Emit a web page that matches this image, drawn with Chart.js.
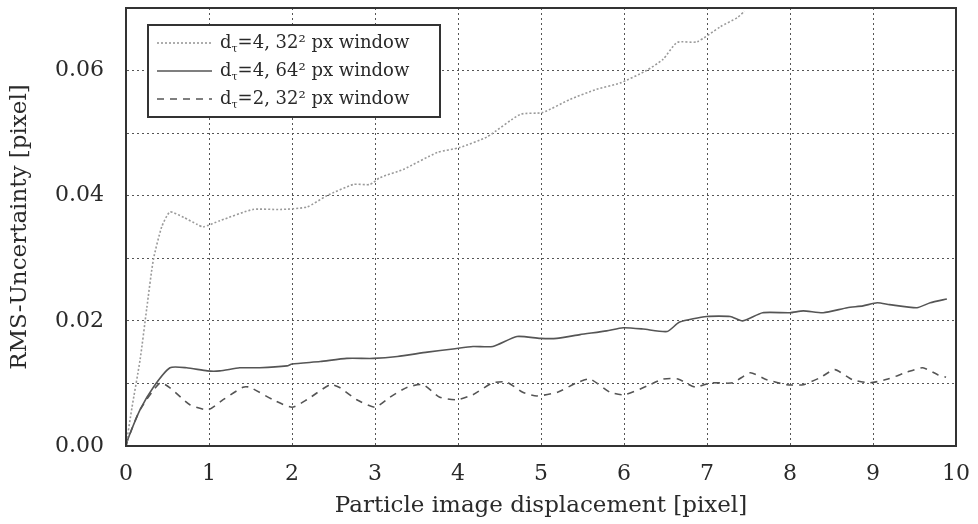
<!DOCTYPE html>
<html>
<head>
<meta charset="utf-8">
<script src="https://cdn.jsdelivr.net/npm/chart.js@4"></script>
<style>
html,body{margin:0;padding:0;background:#fff;}
#wrap{width:978px;height:524px;position:relative;}
</style>
</head>
<body>
<div id="wrap"><canvas id="c" width="978" height="524"></canvas></div>
<script>
// ---- data ----
const xTickLabels = ['0','1','2','3','4','5','6','7','8','9','10'];
const yTickLabels = ['0.00','0.02','0.04','0.06'];
const xTitle = 'Particle image displacement [pixel]';
const yTitle = 'RMS-Uncertainty [pixel]';
const seriesNames = ['d\u03C4=4, 32\u00B2 px window', 'd\u03C4=4, 64\u00B2 px window', 'd\u03C4=2, 32\u00B2 px window'];

const s1x = [0, 0.07, 0.17, 0.25, 0.33, 0.43, 0.53, 0.7, 0.86, 0.93, 1.13, 1.53, 1.86, 2.18, 2.42, 2.74, 2.94, 3.06, 3.34, 3.75, 4.02, 4.35, 4.75, 5.02, 5.35, 5.67, 5.95, 6.27, 6.47, 6.64, 6.88, 7.16, 7.37, 7.45];
const s1y = [0, 0.006, 0.0138, 0.022, 0.0298, 0.035, 0.0374, 0.0365, 0.0354, 0.035, 0.036, 0.0378, 0.0378, 0.0382, 0.040, 0.0418, 0.0418, 0.0429, 0.0442, 0.0469, 0.0477, 0.0494, 0.053, 0.0533, 0.0554, 0.057, 0.058, 0.060, 0.0618, 0.0645, 0.0646, 0.067, 0.0685, 0.0695];

const s2x = [0, 0.02, 0.17, 0.33, 0.53, 0.73, 0.98, 1.13, 1.37, 1.61, 1.94, 2.0, 2.34, 2.66, 2.98, 3.27, 3.63, 3.94, 4.18, 4.42, 4.71, 4.99, 5.19, 5.47, 5.79, 5.99, 6.23, 6.52, 6.67, 7.0, 7.28, 7.43, 7.67, 8.0, 8.16, 8.4, 8.69, 8.88, 9.05, 9.2, 9.53, 9.69, 9.89];
const s2y = [0, 0.001, 0.0058, 0.0094, 0.0125, 0.0125, 0.012, 0.012, 0.0125, 0.0125, 0.0128, 0.0131, 0.0135, 0.014, 0.014, 0.0143, 0.015, 0.0155, 0.0159, 0.0159, 0.0175, 0.0172, 0.0172, 0.0178, 0.0184, 0.0189, 0.0187, 0.0183, 0.0198, 0.0207, 0.0207, 0.020, 0.0213, 0.0213, 0.0216, 0.0213, 0.0221, 0.0224, 0.0229, 0.0226, 0.0221, 0.0229, 0.0235];

const s3x = [0, 0.02, 0.17, 0.41, 0.53, 0.77, 0.99, 1.17, 1.41, 1.49, 1.77, 2.0, 2.18, 2.46, 2.58, 2.78, 3.0, 3.18, 3.39, 3.58, 3.78, 3.99, 4.18, 4.42, 4.59, 4.78, 4.95, 5.2, 5.43, 5.59, 5.83, 6.01, 6.28, 6.47, 6.65, 6.86, 7.04, 7.31, 7.52, 7.72, 7.96, 8.16, 8.36, 8.54, 8.75, 8.96, 9.18, 9.41, 9.6, 9.78, 9.88];
const s3y = [0, 0.001, 0.0058, 0.0101, 0.0093, 0.0066, 0.0058, 0.0074, 0.0094, 0.0094, 0.0074, 0.0062, 0.0074, 0.0098, 0.0093, 0.0074, 0.0062, 0.0078, 0.0094, 0.0098, 0.0078, 0.0074, 0.0082, 0.0101, 0.0102, 0.0086, 0.0080, 0.0086, 0.0101, 0.0107, 0.0086, 0.0082, 0.0096, 0.0107, 0.0107, 0.0094, 0.0101, 0.0101, 0.0117, 0.0106, 0.0098, 0.0098, 0.0109, 0.0122, 0.0106, 0.0101, 0.0107, 0.0118, 0.0125, 0.0114, 0.0110];

const toPts = (xs, ys) => xs.map((x, i) => ({x: x, y: ys[i]}));

const FONT = "'DejaVu Serif', serif";
const TEXT = '#2a2a2a';

const frame = {
  id: 'frame',
  afterDraw(chart) {
    const {ctx, chartArea: a} = chart;
    ctx.save();
    ctx.strokeStyle = '#333';
    ctx.lineWidth = 2;
    ctx.strokeRect(a.left, a.top, a.right - a.left, a.bottom - a.top);
    // legend box
    const lx = a.left + 22, ly = a.top + 17, lw = 292, lh = 92;
    ctx.fillStyle = '#fff';
    ctx.fillRect(lx, ly, lw, lh);
    ctx.strokeStyle = '#333';
    ctx.lineWidth = 2;
    ctx.strokeRect(lx, ly, lw, lh);
    const ds = chart.data.datasets;
    ds.forEach((d, i) => {
      const y = ly + 18 + i * 28;
      ctx.strokeStyle = d.borderColor;
      ctx.lineWidth = d.borderWidth;
      ctx.setLineDash(d.borderDash || []);
      ctx.beginPath();
      ctx.moveTo(lx + 9, y);
      ctx.lineTo(lx + 64, y);
      ctx.stroke();
      ctx.setLineDash([]);
      const name = d.label;
      ctx.fillStyle = TEXT;
      ctx.textBaseline = 'middle';
      ctx.textAlign = 'left';
      let x = lx + 72;
      ctx.font = "18px " + FONT;
      ctx.fillText(name[0], x, y);
      x += ctx.measureText(name[0]).width;
      ctx.font = "11px " + FONT;
      ctx.fillText(name[1], x, y + 6);
      x += ctx.measureText(name[1]).width;
      ctx.font = "18px " + FONT;
      ctx.fillText(name.slice(2), x, y);
    });
    ctx.restore();
  }
};

new Chart(document.getElementById('c'), {
  type: 'line',
  data: {
    datasets: [
      {label: seriesNames[0], data: toPts(s1x, s1y), borderColor: '#9a9a9a', borderWidth: 1.6, borderDash: [2, 2], pointRadius: 0, tension: 0.2, fill: false},
      {label: seriesNames[1], data: toPts(s2x, s2y), borderColor: '#555', borderWidth: 1.6, pointRadius: 0, tension: 0.2, fill: false},
      {label: seriesNames[2], data: toPts(s3x, s3y), borderColor: '#555', borderWidth: 1.6, borderDash: [7, 6], pointRadius: 0, tension: 0.2, fill: false}
    ]
  },
  options: {
    responsive: false,
    animation: false,
    devicePixelRatio: 1,
    layout: {padding: {top: 8, right: 22, bottom: 0, left: 0}},
    plugins: {legend: {display: false}, tooltip: {enabled: false}},
    scales: {
      x: {
        type: 'linear', min: 0, max: 10,
        afterFit(s) { s.height = 78; s.paddingLeft = 0; s.paddingRight = 0; },
        ticks: {stepSize: 1, color: TEXT, font: {family: FONT, size: 22}, padding: 15,
          callback: (v) => xTickLabels[Math.round(v)] ?? ''},
        grid: {color: '#555', lineWidth: 1, drawTicks: false},
        border: {display: true, color: '#333', width: 2, dash: [2, 3]},
        title: {display: true, text: xTitle, color: TEXT, font: {family: FONT, size: 23}, padding: {top: 0, bottom: 4}}
      },
      y: {
        type: 'linear', min: 0, max: 0.07,
        afterFit(s) { s.width = 126; s.paddingTop = 0; s.paddingBottom = 0; },
        ticks: {stepSize: 0.01, color: TEXT, font: {family: FONT, size: 22}, padding: 22,
          callback: (v) => { const k = Math.round(v * 100); return k % 2 === 0 ? (yTickLabels[k / 2] ?? '') : ''; }},
        grid: {color: '#555', lineWidth: 1, drawTicks: false},
        border: {display: true, color: '#333', width: 2, dash: [2, 3]},
        title: {display: true, text: yTitle, color: TEXT, font: {family: FONT, size: 23}, padding: {top: 6, bottom: 0}}
      }
    }
  },
  plugins: [frame]
});
</script>
</body>
</html>
